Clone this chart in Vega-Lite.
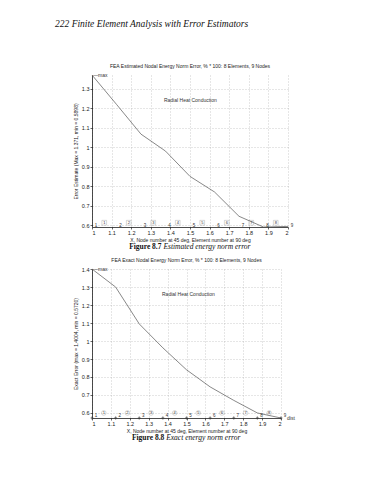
{
  "$schema": "https://vega.github.io/schema/vega-lite/v6.json",
  "background": "white",
  "padding": {"left": 55, "top": 18, "right": 5, "bottom": 5},
  "bounds": "flush",
  "spacing": 14,
  "title": {"text": "222 Finite Element Analysis with Error Estimators", "anchor": "start", "frame": "group", "dx": -37, "font": "Liberation Serif", "fontSize": 9.5, "fontStyle": "italic", "fontWeight": "normal", "color": "#111", "offset": 36},
  "config": {
    "view": {"stroke": null},
    "axis": {"labelFont": "Liberation Sans", "labelFontSize": 5.5, "titleFont": "Liberation Sans", "titleFontSize": 5, "titleFontWeight": "normal", "domainColor": "#000", "domainWidth": 0.7, "tickColor": "#000", "tickSize": 2, "tickWidth": 0.6, "gridColor": "#999", "gridDash": [1, 2], "gridWidth": 0.5, "labelColor": "#222", "titleColor": "#222", "labelPadding": 1, "titlePadding": 2, "labelOverlap": false},
    "title": {"font": "Liberation Sans", "fontSize": 5, "fontWeight": "normal", "color": "#222", "offset": 4}
  },
  "datasets": {
    "est": [
      {"x": 1.0, "y": 1.371}, {"x": 1.125, "y": 1.22}, {"x": 1.25, "y": 1.067}, {"x": 1.375, "y": 0.98},
      {"x": 1.5, "y": 0.85}, {"x": 1.625, "y": 0.77}, {"x": 1.75, "y": 0.645}, {"x": 1.875, "y": 0.5898}, {"x": 2.0, "y": 0.593}
    ],
    "exact": [
      {"x": 1.0, "y": 1.4004}, {"x": 1.125, "y": 1.3}, {"x": 1.25, "y": 1.095}, {"x": 1.375, "y": 0.962},
      {"x": 1.5, "y": 0.84}, {"x": 1.625, "y": 0.745}, {"x": 1.75, "y": 0.67}, {"x": 1.875, "y": 0.6}, {"x": 2.0, "y": 0.572}
    ],
    "nodes": [
      {"n": "1", "x": 1.0}, {"n": "2", "x": 1.125}, {"n": "3", "x": 1.25}, {"n": "4", "x": 1.375}, {"n": "5", "x": 1.5},
      {"n": "6", "x": 1.625}, {"n": "7", "x": 1.75}, {"n": "8", "x": 1.875}, {"n": "9", "x": 2.0}
    ],
    "elems": [
      {"e": "1", "x": 1.0625}, {"e": "2", "x": 1.1875}, {"e": "3", "x": 1.3125}, {"e": "4", "x": 1.4375},
      {"e": "5", "x": 1.5625}, {"e": "6", "x": 1.6875}, {"e": "7", "x": 1.8125}, {"e": "8", "x": 1.9375}
    ],
    "notes1": [
      {"t": "—max", "x": 1.0, "y": 1.371},
      {"t": "Radial  Heat Conduction", "x": 1.362, "y": 1.24}
    ],
    "notes2": [
      {"t": "—max", "x": 1.0, "y": 1.4004},
      {"t": "Radial  Heat Conduction", "x": 1.365, "y": 1.263}
    ],
    "cap1": [{"a": "Figure 8.7", "b": "Estimated energy norm error"}],
    "cap2": [{"a": "Figure 8.8", "b": "Exact energy norm error"}]
  },
  "vconcat": [
    {
      "width": 196,
      "height": 152,
      "title": {"text": "FEA Estimated Nodal Energy Norm Error, % * 100:   8 Elements, 9 Nodes"},
      "encoding": {
        "x": {"field": "x", "type": "quantitative", "scale": {"domain": [1, 2], "nice": false, "zero": false},
              "axis": {"title": "X, Node number at 45 deg, Element number at 90 deg", "values": [1, 1.1, 1.2, 1.3, 1.4, 1.5, 1.6, 1.7, 1.8, 1.9, 2], "format": "~g", "grid": true}}
      },
      "layer": [
        {"data": {"name": "est"}, "mark": {"type": "line", "color": "#555", "strokeWidth": 0.7},
         "encoding": {
          "y": {"field": "y", "type": "quantitative", "scale": {"domain": [0.59, 1.371], "nice": false, "zero": false},
                "axis": {"title": "Error Estimate  (Max = 1.371, min = 0.5898)", "values": [0.6, 0.7, 0.8, 0.9, 1, 1.1, 1.2, 1.3], "format": "~g", "grid": true, "titleX": -14}}
         }},
        {"data": {"name": "nodes"}, "mark": {"type": "text", "fontSize": 4.5, "font": "Liberation Sans", "dx": 4, "color": "#333"},
         "encoding": {
          "y": {"datum": 0.597, "type": "quantitative", "scale": {"domain": [0.59, 1.371], "nice": false, "zero": false},
                "axis": {"title": "Error Estimate  (Max = 1.371, min = 0.5898)", "values": [0.6, 0.7, 0.8, 0.9, 1, 1.1, 1.2, 1.3], "format": "~g", "grid": true, "titleX": -14}},
          "text": {"field": "n"}}},
        {"data": {"name": "elems"}, "mark": {"type": "point", "shape": "square", "size": 22, "filled": false, "color": "#777", "strokeWidth": 0.4},
         "encoding": {
          "y": {"datum": 0.612, "type": "quantitative", "scale": {"domain": [0.59, 1.371], "nice": false, "zero": false},
                "axis": {"title": "Error Estimate  (Max = 1.371, min = 0.5898)", "values": [0.6, 0.7, 0.8, 0.9, 1, 1.1, 1.2, 1.3], "format": "~g", "grid": true, "titleX": -14}}}},
        {"data": {"name": "elems"}, "mark": {"type": "text", "fontSize": 4, "font": "Liberation Sans", "color": "#333"},
         "encoding": {
          "y": {"datum": 0.612, "type": "quantitative", "scale": {"domain": [0.59, 1.371], "nice": false, "zero": false},
                "axis": {"title": "Error Estimate  (Max = 1.371, min = 0.5898)", "values": [0.6, 0.7, 0.8, 0.9, 1, 1.1, 1.2, 1.3], "format": "~g", "grid": true, "titleX": -14}},
          "text": {"field": "e"}}},
        {"data": {"name": "notes1"}, "mark": {"type": "text", "fontSize": 5, "font": "Liberation Sans", "align": "left", "dx": 1, "color": "#333"},
         "encoding": {
          "y": {"field": "y", "type": "quantitative", "scale": {"domain": [0.59, 1.371], "nice": false, "zero": false},
                "axis": {"title": "Error Estimate  (Max = 1.371, min = 0.5898)", "values": [0.6, 0.7, 0.8, 0.9, 1, 1.1, 1.2, 1.3], "format": "~g", "grid": true, "titleX": -14}},
          "text": {"field": "t"}}}
      ]
    },
    {
      "width": 196,
      "height": 14,
      "data": {"name": "cap1"},
      "layer": [
        {"mark": {"type": "text", "font": "Liberation Serif", "fontSize": 7.5, "fontWeight": "bold", "color": "#111", "align": "right", "dx": -28.5, "dy": -1},
         "encoding": {"text": {"field": "a"}}},
        {"mark": {"type": "text", "font": "Liberation Serif", "fontSize": 7.5, "fontStyle": "italic", "color": "#111", "align": "left", "dx": -26.6, "dy": -1},
         "encoding": {"text": {"field": "b"}}}
      ]
    },
    {
      "width": 189,
      "height": 149,
      "title": {"text": "FEA Exact Nodal Energy Norm Error, % * 100:   8 Elements, 9 Nodes"},
      "encoding": {
        "x": {"field": "x", "type": "quantitative", "scale": {"domain": [1, 2], "nice": false, "zero": false},
              "axis": {"title": "X, Node number at 45 deg, Element number at 90 deg", "values": [1, 1.1, 1.2, 1.3, 1.4, 1.5, 1.6, 1.7, 1.8, 1.9, 2], "format": "~g", "grid": true}}
      },
      "layer": [
        {"data": {"name": "exact"}, "mark": {"type": "line", "color": "#555", "strokeWidth": 0.7},
         "encoding": {
          "y": {"field": "y", "type": "quantitative", "scale": {"domain": [0.572, 1.4004], "nice": false, "zero": false},
                "axis": {"title": "Exact Error  (max = 1.4004, min = 0.5720)", "values": [0.6, 0.7, 0.8, 0.9, 1, 1.1, 1.2, 1.3, 1.4], "format": "~g", "grid": true, "titleX": -14}}
         }},
        {"data": {"name": "nodes"}, "mark": {"type": "point", "shape": "cross", "size": 8, "filled": true, "color": "#333"},
         "encoding": {
          "y": {"datum": 0.572, "type": "quantitative", "scale": {"domain": [0.572, 1.4004], "nice": false, "zero": false},
                "axis": {"title": "Exact Error  (max = 1.4004, min = 0.5720)", "values": [0.6, 0.7, 0.8, 0.9, 1, 1.1, 1.2, 1.3, 1.4], "format": "~g", "grid": true, "titleX": -14}}}},
        {"data": {"name": "nodes"}, "mark": {"type": "text", "fontSize": 4.5, "font": "Liberation Sans", "dx": 4, "color": "#333"},
         "encoding": {
          "y": {"datum": 0.585, "type": "quantitative", "scale": {"domain": [0.572, 1.4004], "nice": false, "zero": false},
                "axis": {"title": "Exact Error  (max = 1.4004, min = 0.5720)", "values": [0.6, 0.7, 0.8, 0.9, 1, 1.1, 1.2, 1.3, 1.4], "format": "~g", "grid": true, "titleX": -14}},
          "text": {"field": "n"}}},
        {"data": {"name": "elems"}, "mark": {"type": "point", "shape": "circle", "size": 22, "filled": false, "color": "#777", "strokeWidth": 0.4},
         "encoding": {
          "y": {"datum": 0.6, "type": "quantitative", "scale": {"domain": [0.572, 1.4004], "nice": false, "zero": false},
                "axis": {"title": "Exact Error  (max = 1.4004, min = 0.5720)", "values": [0.6, 0.7, 0.8, 0.9, 1, 1.1, 1.2, 1.3, 1.4], "format": "~g", "grid": true, "titleX": -14}}}},
        {"data": {"name": "elems"}, "mark": {"type": "text", "fontSize": 4, "font": "Liberation Sans", "color": "#333"},
         "encoding": {
          "y": {"datum": 0.6, "type": "quantitative", "scale": {"domain": [0.572, 1.4004], "nice": false, "zero": false},
                "axis": {"title": "Exact Error  (max = 1.4004, min = 0.5720)", "values": [0.6, 0.7, 0.8, 0.9, 1, 1.1, 1.2, 1.3, 1.4], "format": "~g", "grid": true, "titleX": -14}},
          "text": {"field": "e"}}},
        {"data": {"name": "notes2"}, "mark": {"type": "text", "fontSize": 5, "font": "Liberation Sans", "align": "left", "dx": 1, "color": "#333"},
         "encoding": {
          "y": {"field": "y", "type": "quantitative", "scale": {"domain": [0.572, 1.4004], "nice": false, "zero": false},
                "axis": {"title": "Exact Error  (max = 1.4004, min = 0.5720)", "values": [0.6, 0.7, 0.8, 0.9, 1, 1.1, 1.2, 1.3, 1.4], "format": "~g", "grid": true, "titleX": -14}},
          "text": {"field": "t"}}},
        {"data": {"values": [{"t": "dist", "x": 2.0, "y": 0.572}]}, "mark": {"type": "text", "fontSize": 5, "font": "Liberation Sans", "align": "left", "dx": 6, "color": "#333"},
         "encoding": {
          "y": {"field": "y", "type": "quantitative", "scale": {"domain": [0.572, 1.4004], "nice": false, "zero": false},
                "axis": {"title": "Exact Error  (max = 1.4004, min = 0.5720)", "values": [0.6, 0.7, 0.8, 0.9, 1, 1.1, 1.2, 1.3, 1.4], "format": "~g", "grid": true, "titleX": -14}},
          "text": {"field": "t"}}}
      ]
    },
    {
      "width": 189,
      "height": 14,
      "data": {"name": "cap2"},
      "layer": [
        {"mark": {"type": "text", "font": "Liberation Serif", "fontSize": 7.5, "fontWeight": "bold", "color": "#111", "align": "right", "dx": -22.2, "dy": -1},
         "encoding": {"text": {"field": "a"}}},
        {"mark": {"type": "text", "font": "Liberation Serif", "fontSize": 7.5, "fontStyle": "italic", "color": "#111", "align": "left", "dx": -20.3, "dy": -1},
         "encoding": {"text": {"field": "b"}}}
      ]
    }
  ]
}
